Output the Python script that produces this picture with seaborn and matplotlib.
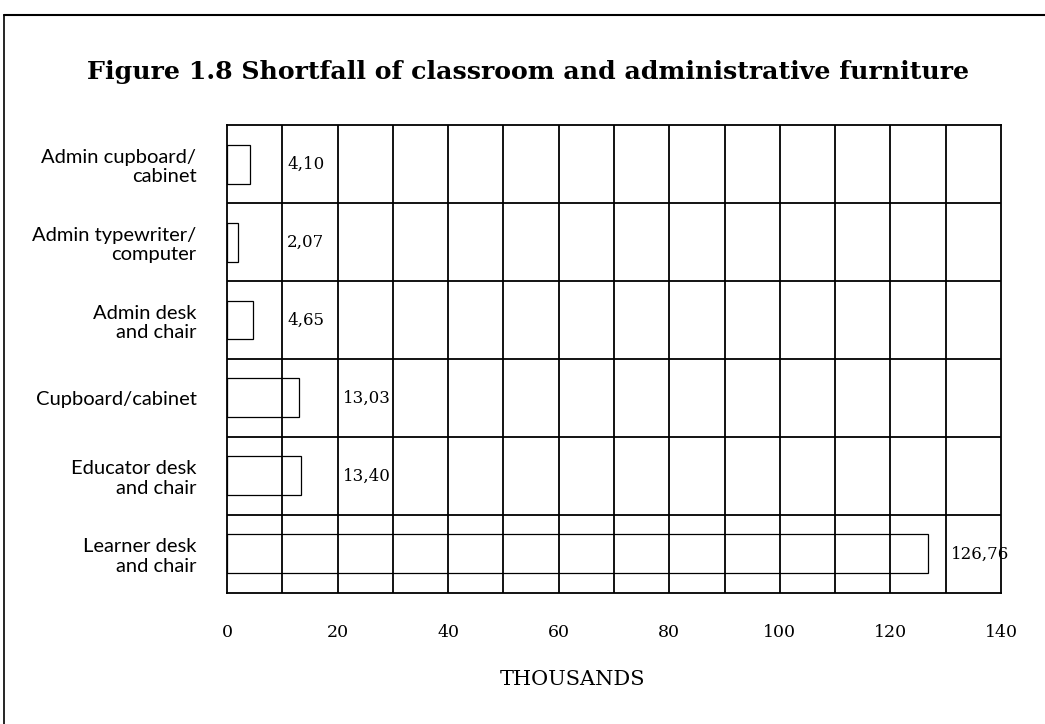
import numpy as np
import pandas as pd
import matplotlib.pyplot as plt
import seaborn as sns

categories = ['Admin cupboard/\ncabinet', 'Admin typewriter/\ncomputer', 'Admin desk\nand chair',
              'Cupboard/cabinet', 'Educator desk\nand chair', 'Learner desk\nand chair']
shortfall = [4.10, 2.07, 4.65, 13.03, 13.40, 126.76]
labels = ['4,10', '2,07', '4,65', '13,03', '13,40', '126,76']

df = pd.DataFrame({'item': categories, 'thousands': shortfall})

sns.set_style('white')
plt.rcParams['text.color'] = 'black'
plt.rcParams['xtick.color'] = 'black'
plt.rcParams['ytick.color'] = 'black'
plt.rcParams['axes.labelcolor'] = 'black'

fig = plt.figure(figsize=(10.45, 7.24), dpi=100)
ax = fig.add_axes([0.2172, 0.181, 0.7407, 0.6463])

# outline-only bars so the grid shows through, like the printed chart
sns.barplot(data=df, x='thousands', y='item', orient='h', color='black', fill=False,
            linewidth=0.9, width=0.5, ax=ax)

ax.set_xlim(0, 140)
ax.set_xticks(np.arange(0, 141, 20))
for xv in np.arange(10, 140, 10):
    ax.axvline(xv, color='black', lw=1.3, zorder=0)
for yv in np.arange(0.5, len(categories) - 0.5, 1):
    ax.axhline(yv, color='black', lw=1.3, zorder=0)
ax.set_ylim(len(categories) - 0.5, -0.5)

# value labels sit just past the next grid line
for i, (v, t) in enumerate(zip(shortfall, labels)):
    xpos = np.ceil(v / 10) * 10 + 0.9
    ax.text(xpos, i, t, va='center', ha='left', fontsize=12, family='DejaVu Serif')

for s in ax.spines.values():
    s.set_color('black')
    s.set_linewidth(1.3)

ax.tick_params(axis='both', length=0)
ax.tick_params(axis='x', pad=22)
ax.tick_params(axis='y', pad=22)
for lab in ax.get_xticklabels():
    lab.set_fontfamily('DejaVu Serif')
    lab.set_fontsize(12.5)
for lab in ax.get_yticklabels():
    lab.set_fontfamily('Lato')
    lab.set_fontsize(14.5)
    lab.set_ha('right')

ax.set_ylabel('')
ax.set_xlabel('THOUSANDS', fontsize=15, family='DejaVu Serif')
ax.xaxis.set_label_coords(0.446, -0.165)

fig.text(0.505, 0.9, 'Figure 1.8 Shortfall of classroom and administrative furniture',
         ha='center', va='center', fontsize=18.2, fontweight='bold', family='DejaVu Serif')

# page frame: top and left rules
fig.add_artist(plt.Line2D([0.004, 1.0], [0.979, 0.979], color='black', lw=1.5))
fig.add_artist(plt.Line2D([0.004, 0.004], [0.0, 0.979], color='black', lw=1.2))

fig.savefig('out.png', dpi=100)
